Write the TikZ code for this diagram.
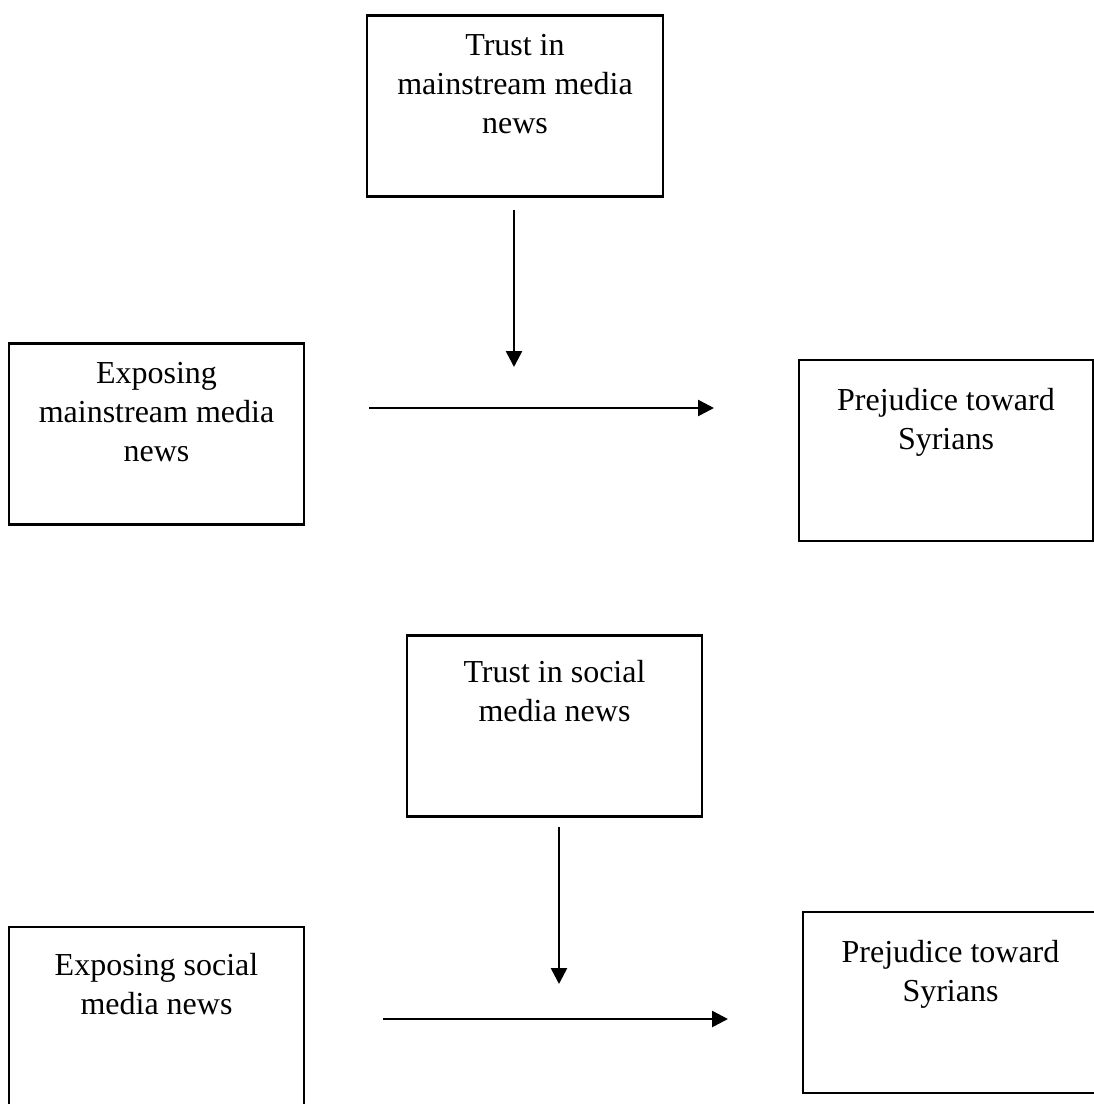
\documentclass[tikz,border=0pt]{standalone}
\usepackage{fontspec}
\setmainfont{Liberation Serif}
\usetikzlibrary{arrows.meta}
\newcommand{\boxtxt}[3]{\parbox[c][181pt][t]{#1}{\centering\rule{0pt}{#2}#3\par}}
\begin{document}
\begin{tikzpicture}[x=1pt,y=1pt,
  varbox/.style={draw=black, line width=2.8pt, inner sep=0pt, outer sep=0pt,
    font=\fontsize{32}{39}\selectfont},
  arr/.style={line width=2.6pt, -{Triangle[length=16pt,width=16pt]}}]
\useasboundingbox (0,0) rectangle (1094,-1104);
\fill[white] (0,0) rectangle (1094,-1104);
% top half
\node[varbox] (b1) at (515,-106) {\boxtxt{296pt}{40pt}{Trust in\\mainstream media\\news}};
\node[varbox] (b2) at (156.5,-434) {\boxtxt{295pt}{40pt}{Exposing\\mainstream media\\news}};
\node[varbox] (b3) at (946,-450.5) {\boxtxt{294pt}{50pt}{Prejudice toward\\Syrians}};
% bottom half
\node[varbox] (b4) at (554.5,-726) {\boxtxt{295pt}{47pt}{Trust in social\\media news}};
\node[varbox] (b5) at (156.5,-1017.5) {\boxtxt{295pt}{48pt}{Exposing social\\media news}};
\node[varbox] (b6) at (950.5,-1002.5) {\boxtxt{295pt}{50pt}{Prejudice toward\\Syrians}};
% arrow end points
\coordinate (a1s) at (514,-210);
\coordinate (a1e) at (514,-367);
\coordinate (a2s) at (369,-408);
\coordinate (a2e) at (714,-408);
\coordinate (a3s) at (559,-827);
\coordinate (a3e) at (559,-984);
\coordinate (a4s) at (383,-1019);
\coordinate (a4e) at (728,-1019);
\draw[arr] (a1s) -- (a1e);
\draw[arr] (a2s) -- (a2e);
\draw[arr] (a3s) -- (a3e);
\draw[arr] (a4s) -- (a4e);
\end{tikzpicture}
\end{document}
